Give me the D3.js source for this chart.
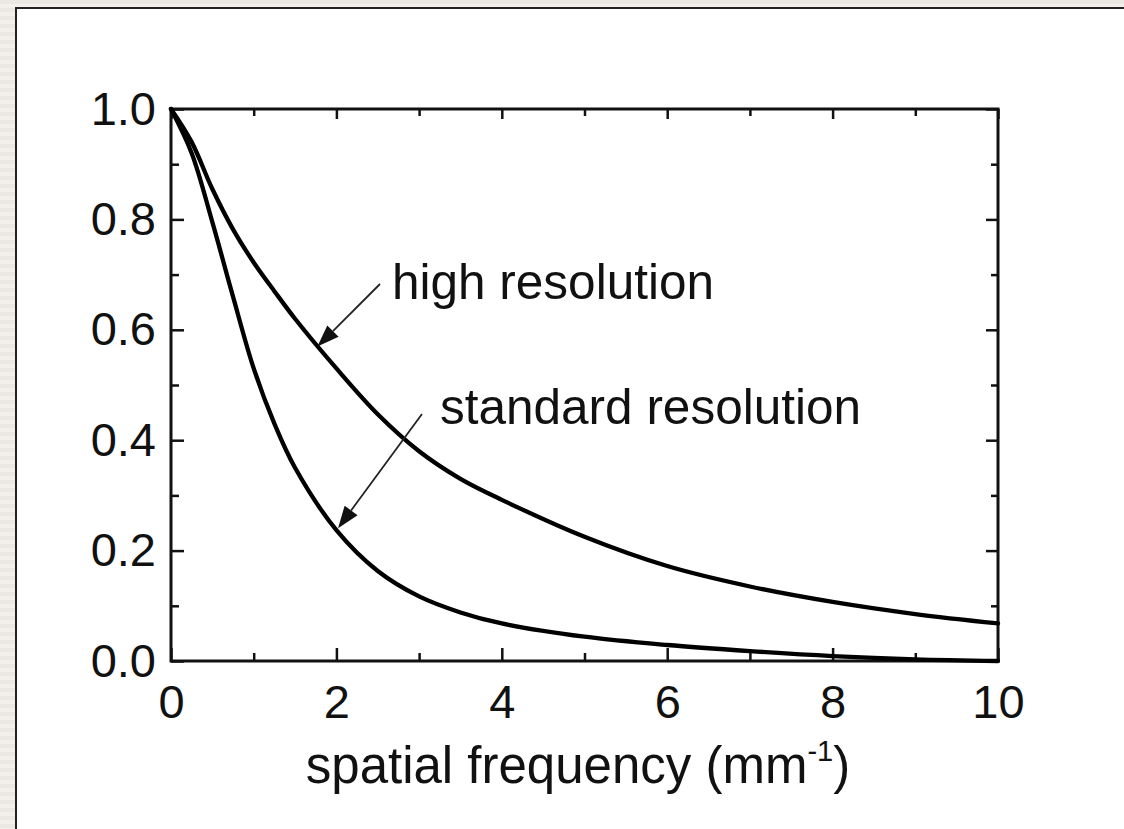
<!DOCTYPE html>
<html>
<head>
<meta charset="utf-8">
<script src="https://cdn.jsdelivr.net/npm/d3@7"></script>
<style>
  html, body { margin: 0; padding: 0; background: #ece9e4; }
  svg { display: block; }
  text { font-family: "Liberation Sans", Arial, Helvetica, sans-serif; fill: #111; }
</style>
</head>
<body>
<svg id="chart" width="1124" height="829"></svg>
<script>
// ---- data ----
const freq = [0, 0.25, 0.5, 0.75, 1, 1.25, 1.5, 2, 2.5, 3, 3.5, 4, 5, 6, 7, 8, 9, 10];
const highRes = [1.0, 0.94, 0.855, 0.782, 0.722, 0.67, 0.62, 0.53, 0.447, 0.38, 0.33, 0.292, 0.225, 0.172, 0.135, 0.107, 0.085, 0.068];
const standardRes = [1.0, 0.92, 0.795, 0.66, 0.53, 0.43, 0.35, 0.237, 0.163, 0.117, 0.088, 0.068, 0.044, 0.029, 0.018, 0.009, 0.003, 0.0];
const xMajorTicks = [0, 2, 4, 6, 8, 10];
const xMinorTicks = [1, 3, 5, 7, 9];
const yMajorTicks = [0, 0.2, 0.4, 0.6, 0.8, 1.0];
const yMinorTicks = [0.1, 0.3, 0.5, 0.7, 0.9];
const xTitle = "spatial frequency (mm";
const xTitleSup = "-1";
const labelHigh = "high resolution";
const labelStandard = "standard resolution";

const svg = d3.select("#chart");

// striped page background + white panel
const defs = svg.append("defs");
const pat = defs.append("pattern").attr("id", "stripes")
  .attr("width", 8).attr("height", 8).attr("patternUnits", "userSpaceOnUse");
pat.append("rect").attr("width", 8).attr("height", 8).attr("fill", "#ebe7e2");
pat.append("rect").attr("y", 4).attr("width", 8).attr("height", 4).attr("fill", "#f3f0ec");
svg.append("rect").attr("width", 1124).attr("height", 829).attr("fill", "url(#stripes)");
svg.append("rect").attr("x", 16).attr("y", 8).attr("width", 1124).attr("height", 840)
  .attr("fill", "#ffffff").attr("stroke", "#222").attr("stroke-width", 2);

const plot = { left: 171, right: 998, top: 109, bottom: 661 };
const x = d3.scaleLinear().domain([0, 10]).range([plot.left, plot.right]);
const y = d3.scaleLinear().domain([0, 1]).range([plot.bottom, plot.top]);

const fmtY = d3.format(".1f");

function styleAxis(g) {
  g.select(".domain").remove();
  g.selectAll(".tick line").attr("stroke", "#111").attr("stroke-width", 2.5);
  g.selectAll(".tick text").attr("fill", "#111")
    .style("font-family", '"Liberation Sans", Arial, sans-serif')
    .style("font-size", "47px");
}

// bottom axis (major with labels, minor without)
svg.append("g").attr("transform", `translate(0,${plot.bottom})`)
  .call(d3.axisBottom(x).tickValues(xMajorTicks).tickSize(-13).tickPadding(24).tickFormat(d3.format("d")))
  .call(styleAxis);
svg.append("g").attr("transform", `translate(0,${plot.bottom})`)
  .call(d3.axisBottom(x).tickValues(xMinorTicks).tickSize(-8).tickFormat(""))
  .call(styleAxis);
// top axis
svg.append("g").attr("transform", `translate(0,${plot.top})`)
  .call(d3.axisTop(x).tickValues(xMajorTicks).tickSize(-10).tickFormat(""))
  .call(styleAxis);
svg.append("g").attr("transform", `translate(0,${plot.top})`)
  .call(d3.axisTop(x).tickValues(xMinorTicks).tickSize(-7).tickFormat(""))
  .call(styleAxis);
// left axis
svg.append("g").attr("transform", `translate(${plot.left},0)`)
  .call(d3.axisLeft(y).tickValues(yMajorTicks).tickSize(-13).tickPadding(15).tickFormat(fmtY))
  .call(styleAxis);
svg.append("g").attr("transform", `translate(${plot.left},0)`)
  .call(d3.axisLeft(y).tickValues(yMinorTicks).tickSize(-8).tickFormat(""))
  .call(styleAxis);
// right axis
svg.append("g").attr("transform", `translate(${plot.right},0)`)
  .call(d3.axisRight(y).tickValues(yMajorTicks).tickSize(-12).tickFormat(""))
  .call(styleAxis);
svg.append("g").attr("transform", `translate(${plot.right},0)`)
  .call(d3.axisRight(y).tickValues(yMinorTicks).tickSize(-7).tickFormat(""))
  .call(styleAxis);

// frame
svg.append("rect")
  .attr("x", plot.left).attr("y", plot.top)
  .attr("width", plot.right - plot.left).attr("height", plot.bottom - plot.top)
  .attr("fill", "none").attr("stroke", "#111").attr("stroke-width", 3);

// curves
const line = d3.line()
  .x((d, i) => x(freq[i]))
  .y(d => y(d))
  .curve(d3.curveCatmullRom.alpha(0.5));

svg.append("path").datum(highRes).attr("d", line)
  .attr("fill", "none").attr("stroke", "#000").attr("stroke-width", 4.3)
  .attr("stroke-linejoin", "round").attr("stroke-linecap", "round");
svg.append("path").datum(standardRes).attr("d", line)
  .attr("fill", "none").attr("stroke", "#000").attr("stroke-width", 4.3)
  .attr("stroke-linejoin", "round").attr("stroke-linecap", "round");

function arrow(x1, y1, x2, y2) {
  const ang = Math.atan2(y2 - y1, x2 - x1);
  const hl = 22, hw = 8;
  const bx = x2 - hl * Math.cos(ang), by = y2 - hl * Math.sin(ang);
  svg.append("line").attr("x1", x1).attr("y1", y1).attr("x2", bx).attr("y2", by)
    .attr("stroke", "#222").attr("stroke-width", 1.8);
  const px = -Math.sin(ang) * hw, py = Math.cos(ang) * hw;
  svg.append("path")
    .attr("d", `M${x2},${y2} L${bx + px},${by + py} L${bx - px},${by - py} Z`)
    .attr("fill", "#111");
}
arrow(380, 284, x(1.77), y(0.575) + 3);
arrow(422, 414, x(2.02), y(0.237) - 2);

// annotation labels
svg.append("text").attr("x", 392).attr("y", 299)
  .style("font-size", "49.5px").text(labelHigh);
svg.append("text").attr("x", 440).attr("y", 424)
  .style("font-size", "49.5px").text(labelStandard);

// x axis title
const t = svg.append("text").attr("x", 578).attr("y", 783)
  .attr("text-anchor", "middle").style("font-size", "51px");
t.append("tspan").text(xTitle);
t.append("tspan").attr("dy", -22).style("font-size", "29px").text(xTitleSup);
t.append("tspan").attr("dy", 22).text(")");
</script>
</body>
</html>
